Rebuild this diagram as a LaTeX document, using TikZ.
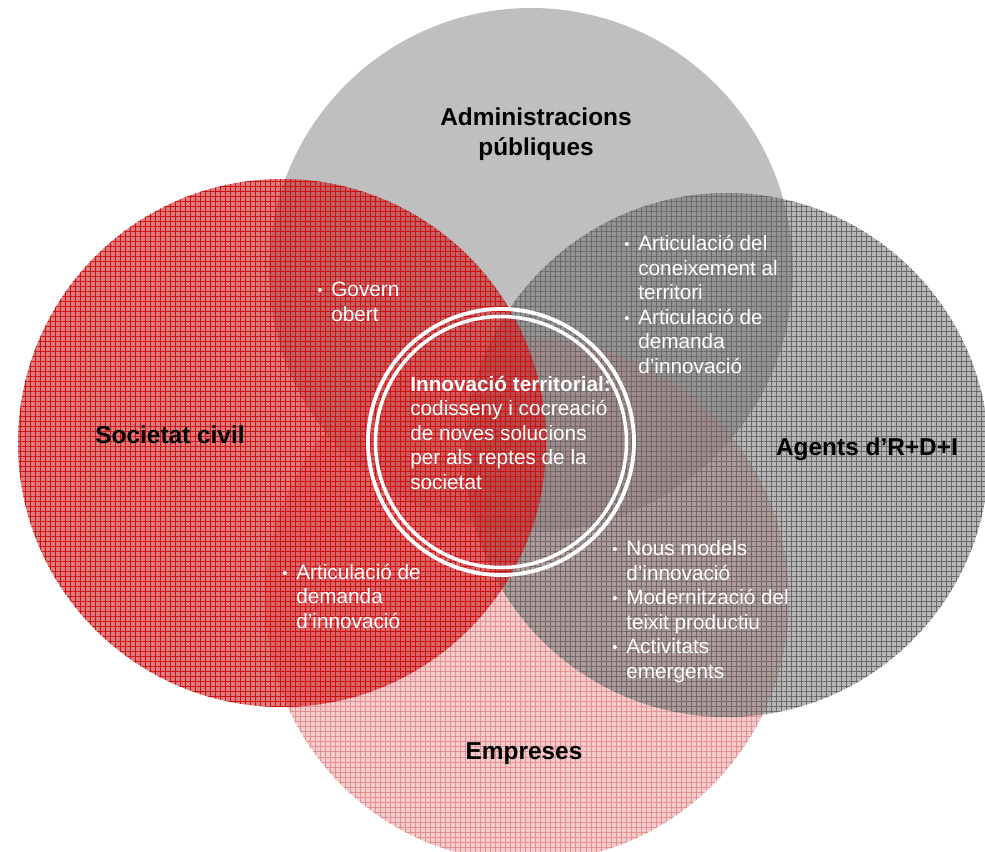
\documentclass[tikz,border=0pt]{standalone}
\usepackage{fontspec}
\setmainfont{Liberation Sans}
\usetikzlibrary{patterns.meta}
\definecolor{topgray}{HTML}{BFBFBF}
\definecolor{redbase}{HTML}{C81E23}
\definecolor{redline}{HTML}{CC1010}
\definecolor{graybase}{HTML}{606060}
\definecolor{grayline}{HTML}{6A6A6A}
\definecolor{pinkbase}{HTML}{E9A0A0}
\definecolor{pinkline}{HTML}{E09090}
\tikzset{
  gridpat/.style={pattern={Hatch[distance=2.85pt,line width=0.4pt]}, pattern color=#1},
  biglabel/.style={font=\bfseries\fontsize{13.9pt}{17pt}\selectfont, text=black, align=center, inner sep=0pt, anchor=base},
  bodytext/.style={font=\fontsize{11.8pt}{14pt}\selectfont, text=white, align=left, inner sep=0pt, anchor=base west},
  ring/.style={draw=white, line width=2.2pt}
}
\newcommand\bul{\llap{\raisebox{0.6pt}{\fontsize{8.5pt}{8.5pt}\selectfont •}\hspace{5pt}}}
\begin{document}
\begin{tikzpicture}[x=0.02cm,y=-0.02cm]
\useasboundingbox (0,0) rectangle (985,852);
% top circle: Administracions publiques
\fill[topgray] (531,270) circle (262);
% bottom circle: Empreses
\fill[pinkbase, fill opacity=0.55] (527,600) circle (262);
\fill[gridpat=pinkline, fill opacity=0.3] (527,600) circle (262);
% right circle: Agents
\fill[graybase, fill opacity=0.45] (727,455) circle (262);
\fill[gridpat=grayline, fill opacity=0.3] (727,455) circle (262);
% left circle: Societat civil
\fill[redbase, fill opacity=0.58] (282,443) circle (264);
\fill[gridpat=redline, fill opacity=0.45] (282,443) circle (264);
% central double ring
\draw[ring] (501,442) circle (133);
\draw[ring, line width=2pt] (501,442) circle (125.5);
% labels (anchor = baseline of the last line)
\node[biglabel] (adm) at (536,155) {Administracions\\públiques};
\node[biglabel] (soc) at (170,443) {Societat civil};
\node[biglabel] (agents) at (867,455) {Agents d’R+D+I};
\node[biglabel] (emp) at (524,759) {Empreses};
% bullet texts (anchor = baseline of the last line)
\node[bodytext] (govern) at (331,321) {\bul Govern\\obert};
\node[bodytext] (coneix) at (638,373.5) {\bul Articulació del\\coneixement al\\territori\\\bul Articulació de\\demanda\\d’innovació};
\node[bodytext] (innov) at (410,489.5) {\textbf{Innovació territorial:}\\codisseny i cocreació\\de noves solucions\\per als reptes de la\\societat};
\node[bodytext] (demanda) at (296,628.5) {\bul Articulació de\\demanda\\d’innovació};
\node[bodytext] (models) at (626,678.5) {\bul Nous models\\d’innovació\\\bul Modernització del\\teixit productiu\\\bul Activitats\\emergents};
\end{tikzpicture}
\end{document}
